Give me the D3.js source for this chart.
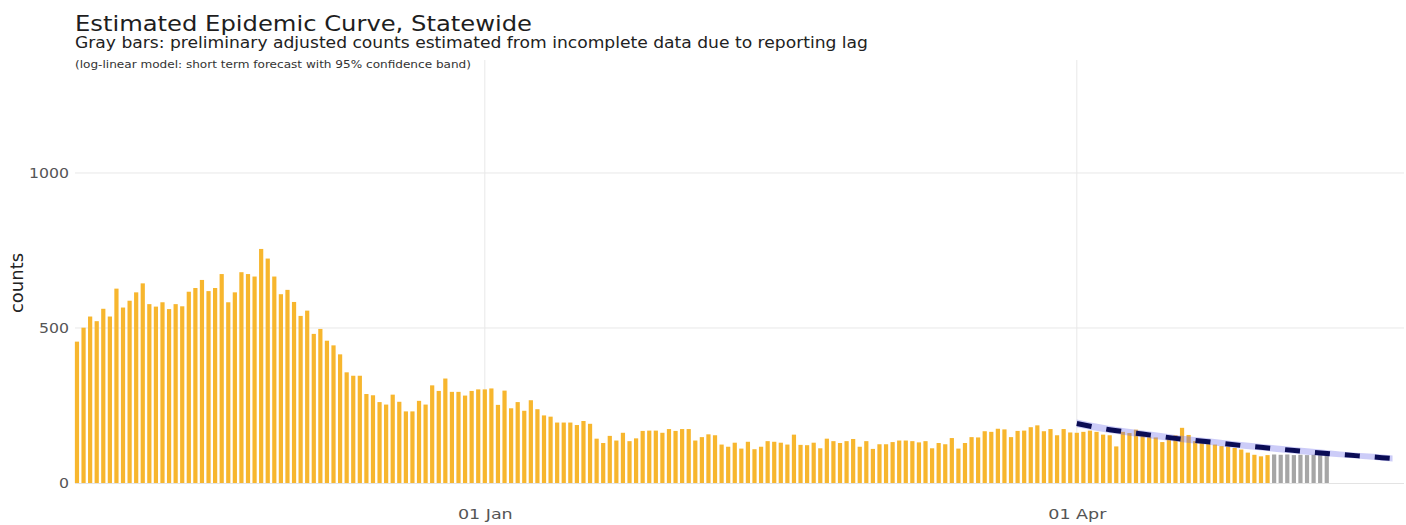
<!DOCTYPE html>
<html><head><meta charset="utf-8">
<script src="https://cdn.jsdelivr.net/npm/d3@7"></script>
<style>
body{margin:0;background:#fff}
svg{display:block}
text{font-family:"DejaVu Sans",Verdana,sans-serif}
</style>
</head><body>
<svg id="chart" width="1406" height="525"></svg>
<script>
// ---------- DATA ----------
const firstDate = "2020-10-31";           // first daily bar
const reportedCounts = [
  456,501,537,522,562,537,627,566,588,615,644,577,569,583,561,577,570,617,629,655,
  619,629,674,583,615,680,674,666,755,724,666,609,623,584,539,556,481,497,459,444,
  415,357,346,346,287,283,261,253,285,262,231,231,265,253,315,297,337,294,294,282,
  297,302,302,305,252,298,241,261,233,267,238,218,214,195,195,195,187,200,191,143,
  129,152,137,162,135,144,168,169,169,162,174,168,174,174,137,148,157,154,124,117,
  130,111,133,109,117,135,133,130,124,156,123,122,130,112,143,135,129,135,142,117,
  135,110,125,125,132,137,137,135,131,135,112,129,125,145,111,129,148,147,167,165,
  175,173,148,168,169,180,186,167,174,154,174,163,162,165,169,165,156,154,118,165,
  161,172,152,148,147,132,146,154,178,155,135,130,127,124,119,117,113,108,98,91,
  86,90
];
const preliminaryCounts = [92,91,92,90,91,90,91,90,89];   // gray bars after the orange ones
const forecastDates = ["2021-04-01","2021-04-06","2021-04-11","2021-04-16","2021-04-21",
  "2021-04-26","2021-05-01","2021-05-06","2021-05-11","2021-05-16","2021-05-19"];
const forecastMid   = [192,172,158,144,133,121,111,101,92,84,79];
const forecastLower = [180,161,147,134,123,111,101,91,83,75,69];
const forecastUpper = [205,184,169,155,144,132,122,112,102,94,89];
const yTicks = [0,500,1000];
const xTickDates = ["2021-01-01","2021-04-01"];
const titleText = "Estimated Epidemic Curve, Statewide";
const subtitleText = "Gray bars: preliminary adjusted counts estimated from incomplete data due to reporting lag";
const noteText = "(log-linear model: short term forecast with 95% confidence band)";
const yLabel = "counts";

// ---------- LAYOUT ----------
const plotLeft = 75, plotRight = 1404, plotTop = 60, plotBottom = 483;
const parse = d3.utcParse("%Y-%m-%d");
const svg = d3.select("#chart");
const FONT = '"DejaVu Sans",Verdana,sans-serif';

function stretch(sel, f){
  sel.each(function(){
    const L = this.getComputedTextLength();
    d3.select(this).attr("textLength", L*f).attr("lengthAdjust","spacingAndGlyphs");
  });
}

const x = d3.scaleUtc()
  .domain([parse("2021-01-01"), parse("2021-04-01")])
  .range([484.8, 1076.8]);
const y = d3.scaleLinear().domain([0, 1364.5]).range([plotBottom, plotTop]);
const dayPx = x(parse("2021-01-02")) - x(parse("2021-01-01"));
const bw = dayPx * 0.64;

const start = parse(firstDate);
const reported = reportedCounts.map((v,i)=>({date:d3.utcDay.offset(start,i), v}));
const prelim = preliminaryCounts.map((v,i)=>({date:d3.utcDay.offset(start,reportedCounts.length+i), v}));
const forecast = forecastDates.map((d,i)=>({date:parse(d), mid:forecastMid[i], lo:forecastLower[i], hi:forecastUpper[i]}));

// grid
const grid = svg.append("g");
grid.selectAll("line.h").data(yTicks.filter(t=>t>0)).join("line")
  .attr("x1", plotLeft).attr("x2", plotRight)
  .attr("y1", d=>y(d)).attr("y2", d=>y(d))
  .attr("stroke", "#e8e8e8").attr("stroke-width", 1);
grid.selectAll("line.v").data(xTickDates).join("line")
  .attr("x1", d=>x(parse(d))).attr("x2", d=>x(parse(d)))
  .attr("y1", plotTop).attr("y2", plotBottom)
  .attr("stroke", "#e8e8e8").attr("stroke-width", 1);
grid.append("line").attr("x1", plotLeft).attr("x2", plotRight)
  .attr("y1", y(0)+0.5).attr("y2", y(0)+0.5).attr("stroke", "#e3e3e3");

// bars
svg.append("g").selectAll("rect").data(reported).join("rect")
  .attr("x", d=>x(d.date)-bw/2).attr("width", bw)
  .attr("y", d=>y(d.v)).attr("height", d=>y(0)-y(d.v))
  .attr("fill", "#f7b62e");
svg.append("g").selectAll("rect").data(prelim).join("rect")
  .attr("x", d=>x(d.date)-bw/2).attr("width", bw)
  .attr("y", d=>y(d.v)).attr("height", d=>y(0)-y(d.v))
  .attr("fill", "#a6a6a6");

// forecast band + line
const area = d3.area().x(d=>x(d.date)).y0(d=>y(d.lo)).y1(d=>y(d.hi)).curve(d3.curveMonotoneX);
svg.append("path").datum(forecast).attr("d", area)
  .attr("fill", "rgba(110,110,235,0.35)");
const line = d3.line().x(d=>x(d.date)).y(d=>y(d.mid)).curve(d3.curveMonotoneX);
svg.append("path").datum(forecast).attr("d", line)
  .attr("fill", "none").attr("stroke", "#0a0c55").attr("stroke-width", 5)
  .attr("stroke-dasharray", "15,15");

// axes
const yAxis = d3.axisLeft(y).tickValues(yTicks).tickFormat(d3.format("d")).tickSize(0).tickPadding(4);
const gy = svg.append("g").attr("transform", `translate(${plotLeft-2},0)`).call(yAxis);
gy.select(".domain").remove();
gy.selectAll("text").attr("font-size", 14).attr("fill", "#555").attr("font-family", FONT);
stretch(gy.selectAll("text"), 1.12);

const xAxis = d3.axisBottom(x).tickValues(xTickDates.map(parse))
  .tickFormat(d3.utcFormat("%d %b")).tickSize(0).tickPadding(0);
const gx = svg.append("g").attr("transform", `translate(0,${plotBottom+26})`).call(xAxis);
gx.select(".domain").remove();
gx.selectAll("text").attr("font-size", 14).attr("fill", "#555").attr("font-family", FONT);
stretch(gx.selectAll("text"), 1.25);

// y label
svg.append("text").attr("transform", "translate(23,283) rotate(-90)")
  .attr("text-anchor", "middle").attr("font-size", 18).attr("fill", "#222").text(yLabel);

// titles
svg.append("text").attr("x", 75).attr("y", 31).attr("font-size", 22).attr("fill", "#1e1e1e")
  .attr("textLength", 457).attr("lengthAdjust","spacingAndGlyphs").text(titleText);
svg.append("text").attr("x", 75).attr("y", 48).attr("font-size", 15.5).attr("fill", "#222")
  .attr("textLength", 793).attr("lengthAdjust","spacingAndGlyphs").text(subtitleText);
svg.append("text").attr("x", 75).attr("y", 68).attr("font-size", 10).attr("fill", "#333")
  .attr("textLength", 396).attr("lengthAdjust","spacingAndGlyphs").text(noteText);
</script>
</body></html>
